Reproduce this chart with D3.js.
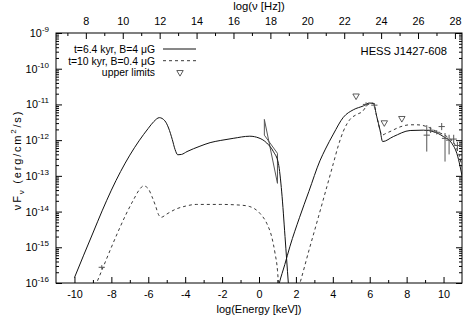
<!DOCTYPE html>
<html>
<head>
<meta charset="utf-8">
<script src="https://cdn.jsdelivr.net/npm/d3@7"></script>
<style>
body { margin: 0; background: #fff; }
svg { display: block; font-family: "Liberation Sans", Arial, Helvetica, sans-serif; }
</style>
</head>
<body>
<svg width="463" height="319"></svg>
<script>
// all pairs are [log10(E / keV), log10(nuFnu / erg cm^-2 s^-1)]

// t=6.4 kyr, B=4 uG
var syncSolid = [[-10.0,-15.85],[-9.5,-15.22],[-9.0,-14.6],[-8.5,-13.98],[-8.0,-13.4],[-7.5,-12.88],[-7.0,-12.42],[-6.5,-12.02],[-6.0,-11.67],[-5.7,-11.48],[-5.4,-11.37],[-5.1,-11.46],[-4.9,-11.66],[-4.7,-11.98],[-4.55,-12.26],[-4.4,-12.41],[-4.2,-12.4],[-3.9,-12.32],[-3.2,-12.17],[-2.65,-12.07],[-2.1,-12.01],[-1.4,-11.95],[-0.5,-11.89],[0.0,-11.94],[0.42,-12.08],[0.78,-12.32],[1.05,-12.65],[1.23,-13.45],[1.41,-14.7],[1.59,-16.0],[1.65,-16.4]]
var icSolid = [[1.05,-16.1],[1.1,-16.0],[1.4,-15.48],[1.68,-14.97],[2.2,-14.16],[2.7,-13.44],[3.3,-12.58],[3.6,-12.25],[4.03,-11.83],[4.57,-11.36],[5.11,-11.15],[5.66,-11.04],[5.98,-10.96],[6.2,-10.97],[6.38,-11.34],[6.56,-11.72],[6.7,-12.04],[7.28,-11.9],[8.19,-11.73],[8.9,-11.72],[9.45,-11.76],[9.99,-11.9],[10.45,-12.09],[10.72,-12.37],[10.9,-12.74],[11.0,-13.0]]

// t=10 kyr, B=0.4 uG
var syncDashed = [[-9.0,-16.25],[-8.8,-16.0],[-8.4,-15.5],[-8.0,-15.0],[-7.6,-14.52],[-7.2,-14.07],[-6.8,-13.67],[-6.5,-13.4],[-6.25,-13.28],[-6.0,-13.36],[-5.8,-13.58],[-5.6,-13.85],[-5.45,-14.08],[-5.3,-14.16],[-5.0,-14.07],[-4.5,-13.93],[-4.0,-13.85],[-3.4,-13.8],[-2.65,-13.8],[-2.1,-13.8],[-1.0,-13.82],[-0.5,-13.86],[0.05,-14.05],[0.42,-14.33],[0.69,-14.71],[0.87,-15.17],[1.0,-15.64],[1.05,-16.0],[1.08,-16.3]]
var icDashed = [[2.15,-16.12],[2.22,-16.0],[2.7,-15.1],[3.22,-14.15],[3.68,-13.3],[4.03,-12.65],[4.3,-12.15],[4.57,-11.75],[4.93,-11.42],[5.3,-11.28],[5.6,-11.2],[5.84,-11.04],[6.02,-10.96],[6.2,-10.97],[6.38,-11.34],[6.56,-11.72],[6.65,-11.86],[6.92,-11.8],[7.1,-11.76],[7.64,-11.63],[8.19,-11.57],[8.55,-11.57],[9.09,-11.62],[9.63,-11.76],[10.18,-11.9],[10.63,-12.14],[10.81,-12.37],[11.0,-12.74]]

var upperLimits = [[5.26,-10.76],[6.79,-11.51],[7.74,-11.39]]
// X-ray spectrum bow tie: the two slope limits
var bowSteep = [[0.29,-11.42],[1.0,-13.21]]
var bowFlat = [[0.29,-11.86],[1.0,-12.37]]
// points with error bars: [logE, logF, logF low, logF high]
var radioPoints = [[-8.52,-15.56,-15.62,-15.5]]
var gevPoints = [[5.8,-11.0,-11.06,-10.94],[6.25,-11.02,-11.08,-10.96]]
var hessPoints = [[9.09,-11.86,-12.32,-11.58],[9.3,-11.72,-11.8,-11.63],[9.63,-11.78,-11.84,-11.72],[9.9,-11.62,-11.72,-11.52],[10.08,-11.95,-12.6,-11.8],[10.3,-12.0,-12.4,-11.85],[10.55,-11.97,-12.1,-11.85],[10.75,-12.15,-12.3,-12.05]]

var xTicks = [-10,-8,-6,-4,-2,0,2,4,6,8,10]
var x2Ticks = [8,10,12,14,16,18,20,22,24,26,28]
var yDecades = [-16,-15,-14,-13,-12,-11,-10,-9]
var legendLabels = ["t=6.4 kyr, B=4 \u03bcG", "t=10 kyr, B=0.4 \u03bcG", "upper limits"]

var width = 463, height = 319
var plotLeft = 56, plotRight = 462, plotTop = 33, plotBottom = 283
var hzShift = 17.383  // log10(frequency of 1 keV in Hz)
var tickFont = "10.8px"
var dashPattern = "3,3"

var svg = d3.select("svg")

var x = d3.scaleLinear().domain([-11, 11]).range([plotLeft, plotRight])
var x2 = d3.scaleLinear().domain([-11 + hzShift, 11 + hzShift]).range([plotLeft, plotRight])
var y = d3.scaleLog().domain([1e-16, 1e-9]).range([plotBottom, plotTop])

function px(d) { return x(d[0]) }
function py(v) { return y(Math.pow(10, v)) }

// minor tick values
var xMinor = d3.range(-10, 11).filter(d => xTicks.indexOf(d) < 0)
var x2Minor = d3.range(7, 29).filter(d => x2Ticks.indexOf(d) < 0)
var yMinor = []
yDecades.slice(0, -1).forEach(function(e) {
    for (var k = 2; k < 10; k++) yMinor.push(k * Math.pow(10, e))
})
var yMajor = yDecades.map(e => Math.pow(10, e))

function clean(g) {
    g.select(".domain").remove()
    g.selectAll("line").attr("stroke", "#000")
    g.selectAll("text").style("font-size", tickFont).attr("fill", "#000")
}

// bottom axis
svg.append("g").attr("transform", "translate(0," + plotBottom + ")")
    .call(d3.axisBottom(x).tickValues(xTicks).tickSize(-6).tickPadding(7).tickFormat(d => String(d)))
    .call(clean)
svg.append("g").attr("transform", "translate(0," + plotBottom + ")")
    .call(d3.axisBottom(x).tickValues(xMinor).tickSize(-3).tickFormat(""))
    .call(clean)

// top axis, frequency
svg.append("g").attr("transform", "translate(0," + plotTop + ")")
    .call(d3.axisTop(x2).tickValues(x2Ticks).tickSize(-6).tickPadding(8).tickFormat(d => String(d)))
    .call(clean)
svg.append("g").attr("transform", "translate(0," + plotTop + ")")
    .call(d3.axisTop(x2).tickValues(x2Minor.filter(d => x2(d) > plotLeft)).tickSize(-3).tickFormat(""))
    .call(clean)

// left and right axes
svg.append("g").attr("transform", "translate(" + plotLeft + ",0)")
    .call(d3.axisLeft(y).tickValues(yMajor).tickSize(-6).tickFormat(""))
    .call(clean)
svg.append("g").attr("transform", "translate(" + plotLeft + ",0)")
    .call(d3.axisLeft(y).tickValues(yMinor).tickSize(-3).tickFormat(""))
    .call(clean)
svg.append("g").attr("transform", "translate(" + plotRight + ",0)")
    .call(d3.axisRight(y).tickValues(yMajor).tickSize(-6).tickFormat(""))
    .call(clean)
svg.append("g").attr("transform", "translate(" + plotRight + ",0)")
    .call(d3.axisRight(y).tickValues(yMinor).tickSize(-3).tickFormat(""))
    .call(clean)

// 10^n labels
var yLab = svg.append("g").selectAll("text")
    .data(yDecades)
    .enter().append("text")
    .attr("x", plotLeft - 7)
    .attr("y", d => py(d) + 4)
    .attr("text-anchor", "end")
    .style("font-size", tickFont)
yLab.append("tspan").text("10")
yLab.append("tspan").attr("dy", -5).style("font-size", "8px").text(d => String(d))

// frame
svg.append("rect")
    .attr("x", plotLeft).attr("y", plotTop)
    .attr("width", plotRight - plotLeft).attr("height", plotBottom - plotTop)
    .attr("fill", "none").attr("stroke", "#000").attr("stroke-width", 1)

// axis titles
svg.append("text").attr("x", (plotLeft + plotRight) / 2).attr("y", 313)
    .attr("text-anchor", "middle").style("font-size", "11px")
    .text("log(Energy [keV])")
svg.append("text").attr("x", (plotLeft + plotRight) / 2).attr("y", 10)
    .attr("text-anchor", "middle").style("font-size", "11.3px")
    .text("log(\u03bd [Hz])")

var yl = svg.append("text")
    .attr("transform", "translate(21,160) rotate(-90)")
    .attr("text-anchor", "middle").style("font-size", "11px")
    .style("letter-spacing", "1.8px")
yl.append("tspan").text("\u03bdF")
yl.append("tspan").attr("dy", 3).style("font-size", "8px").text("\u03bd")
yl.append("tspan").attr("dy", -3).text(" (erg/cm")
yl.append("tspan").attr("dy", -5).style("font-size", "8px").text("2")
yl.append("tspan").attr("dy", 5).text("/s)")

svg.append("text").attr("x", 447).attr("y", 55)
    .attr("text-anchor", "end").style("font-size", "11.2px")
    .text("HESS J1427-608")

// plot contents
svg.append("clipPath").attr("id", "plotClip")
    .append("rect")
    .attr("x", plotLeft).attr("y", plotTop)
    .attr("width", plotRight - plotLeft).attr("height", plotBottom - plotTop)

var plot = svg.append("g").attr("clip-path", "url(#plotClip)")

var line = d3.line().x(px).y(d => py(d[1])).curve(d3.curveMonotoneX)

// bow tie
plot.append("path")
    .attr("d", d3.line().x(px).y(d => py(d[1]))([bowSteep[0], bowSteep[1], bowFlat[1], bowFlat[0], bowSteep[0]]))
    .attr("fill", "none").attr("stroke", "#555").attr("stroke-width", 1)

;[syncSolid, icSolid].forEach(function(s) {
    plot.append("path").attr("d", line(s))
        .attr("fill", "none").attr("stroke", "#111").attr("stroke-width", 1)
})
;[syncDashed, icDashed].forEach(function(s) {
    plot.append("path").attr("d", line(s))
        .attr("fill", "none").attr("stroke", "#222").attr("stroke-width", 0.9)
        .attr("stroke-dasharray", dashPattern)
})

// error-bar points
var allPoints = radioPoints.concat(gevPoints, hessPoints)
var pts = plot.append("g").attr("stroke", "#555").attr("stroke-width", 1)
pts.selectAll(".vbar").data(allPoints).enter().append("line")
    .attr("x1", px).attr("x2", px)
    .attr("y1", d => py(d[2])).attr("y2", d => py(d[3]))
pts.selectAll(".hbar").data(allPoints).enter().append("line")
    .attr("x1", d => x(d[0] - 0.17)).attr("x2", d => x(d[0] + 0.17))
    .attr("y1", d => py(d[1])).attr("y2", d => py(d[1]))

// upper limits
var tri = d3.symbol().type(d3.symbolTriangle).size(18)
plot.selectAll(".ul").data(upperLimits).enter().append("path")
    .attr("d", tri)
    .attr("transform", d => "translate(" + px(d) + "," + py(d[1]) + ") rotate(180)")
    .attr("fill", "#fff").attr("stroke", "#333").attr("stroke-width", 0.8)

// legend
var legend = svg.append("g")
legendLabels.forEach(function(t, i) {
    var by = 53 + i * 11.7
    legend.append("text").attr("x", 155).attr("y", by)
        .attr("text-anchor", "end").style("font-size", "10.4px").text(t)
    if (i < 2) {
        legend.append("line").attr("x1", 163).attr("x2", 196)
            .attr("y1", by - 4).attr("y2", by - 4)
            .attr("stroke", i == 1 ? "#222" : "#111")
            .attr("stroke-width", i == 1 ? 0.9 : 1)
            .attr("stroke-dasharray", i == 1 ? dashPattern : null)
    } else {
        legend.append("path").attr("d", tri)
            .attr("transform", "translate(180," + (by - 4) + ") rotate(180)")
            .attr("fill", "#fff").attr("stroke", "#333").attr("stroke-width", 0.8)
    }
})
</script>
</body>
</html>
